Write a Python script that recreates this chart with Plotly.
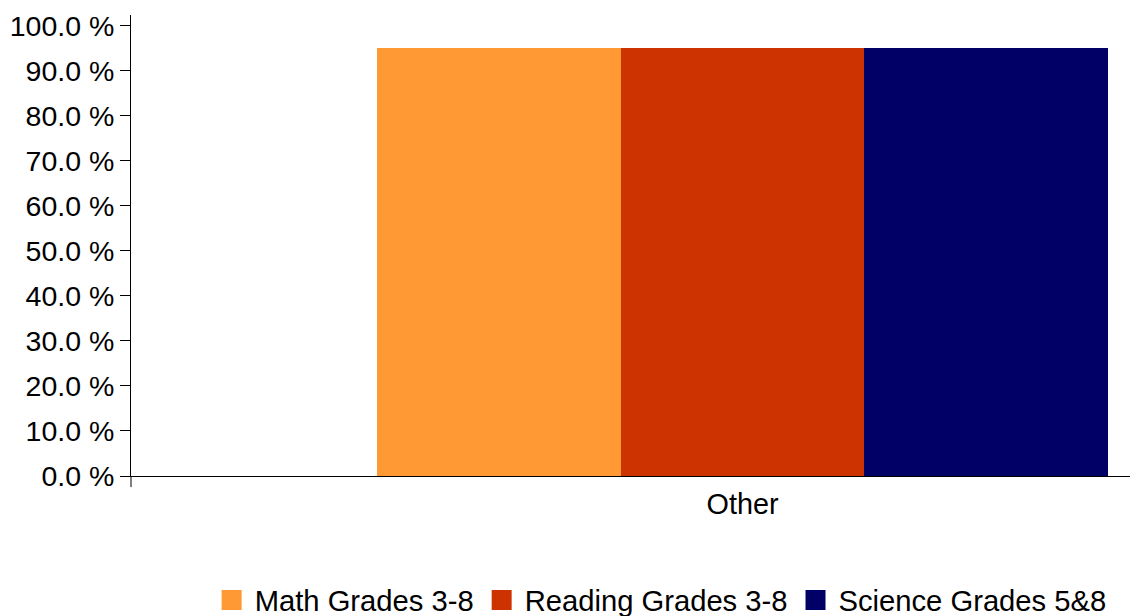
import plotly.graph_objects as go

categories = ["Other"]
series_names = ["Math Grades 3-8", "Reading Grades 3-8", "Science Grades 5&8"]
series_values = [[95.1], [95.1], [95.1]]
colors = ["#FF9933", "#CC3300", "#000066"]
y_ticks = [0, 10, 20, 30, 40, 50, 60, 70, 80, 90, 100]
y_tick_labels = ["%.1f %%" % v for v in y_ticks]

FONT = "Liberation Sans, Arial, sans-serif"

fig = go.Figure()
for name, vals, col in zip(series_names, series_values, colors):
    fig.add_trace(go.Bar(x=categories, y=vals, name=name, marker=dict(color=col, line=dict(width=0)),
                         showlegend=False, legendgroup=name))
    fig.add_trace(go.Scatter(x=[None], y=[None], mode="markers", name=name, legendgroup=name,
                             marker=dict(symbol="square", size=16, color=col,
                                         line=dict(color=col, width=4))))

fig.update_layout(
    width=1138, height=630,
    margin=dict(l=123, r=8, t=7, b=162),
    paper_bgcolor="white", plot_bgcolor="white",
    barmode="group", bargap=0, bargroupgap=0,
    font=dict(family=FONT, size=28.8, color="#000000"),
    legend=dict(orientation="h", x=0.0771, xanchor="left", y=-0.269, yanchor="middle",
                font=dict(size=29.2), itemwidth=36, tracegroupgap=0),
    xaxis=dict(type="category", range=[-0.8365, 0.541], showline=True, linecolor="black", linewidth=1,
               ticks="", showgrid=False, zeroline=False, tickfont=dict(size=28.8),
               ticklabelstandoff=2, automargin=False),
    yaxis=dict(range=[0, 102.4], tickvals=y_ticks, ticktext=y_tick_labels,
               showline=True, linecolor="black", linewidth=1, ticks="outside", ticklen=10,
               tickcolor="black", showgrid=False, zeroline=False, tickfont=dict(size=28.5),
               ticklabelstandoff=0, automargin=False),
    shapes=[dict(type="line", xref="paper", yref="paper", x0=0, x1=0, y0=0, y1=-0.024,
                 line=dict(color="black", width=1))],
)

fig.write_html("out.html")
